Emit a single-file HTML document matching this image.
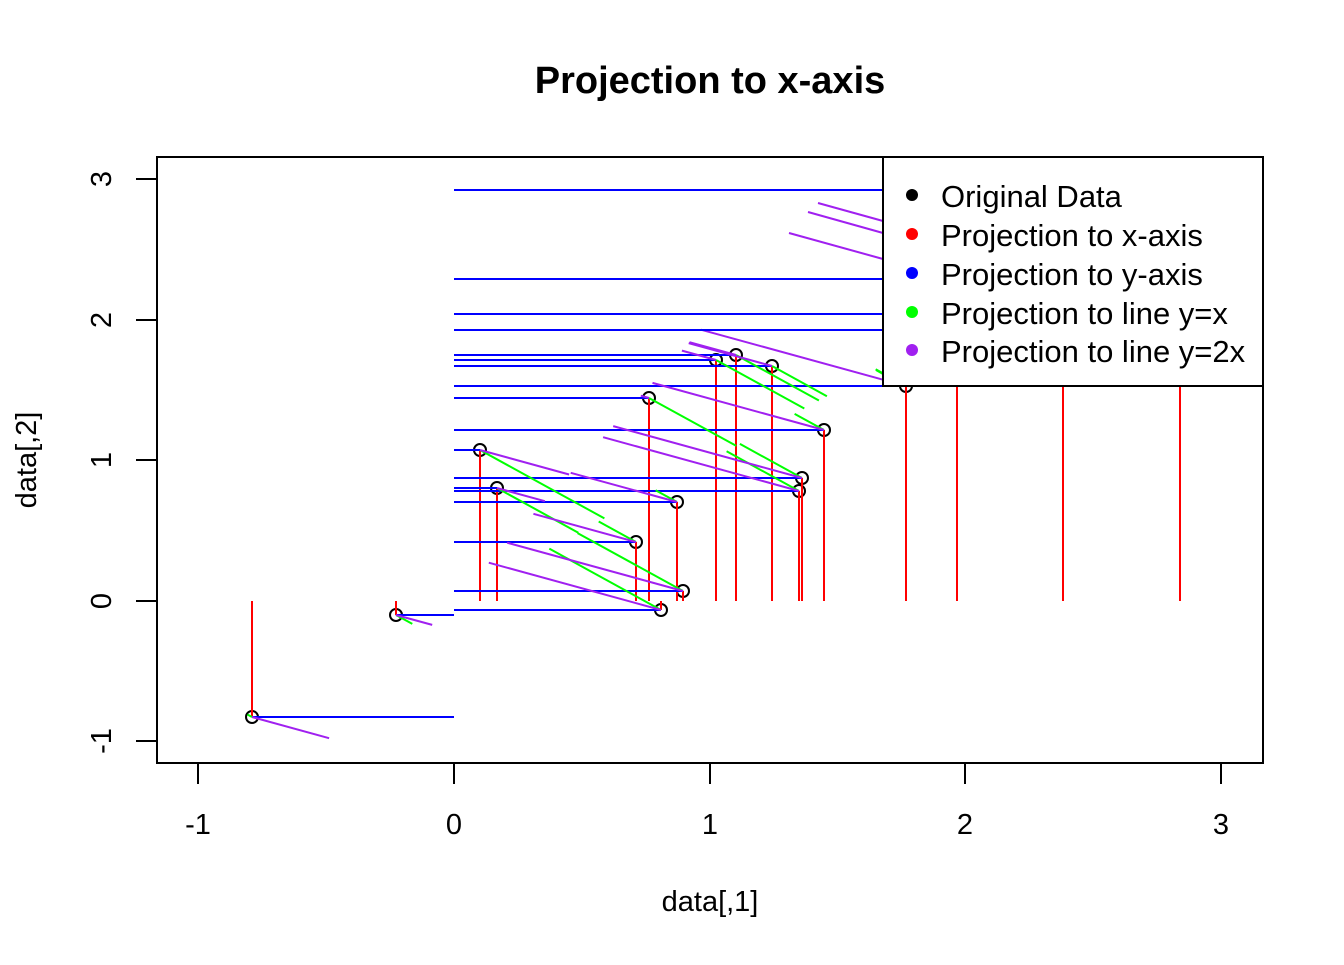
<!DOCTYPE html>
<html><head><meta charset="utf-8"><style>
html,body{margin:0;padding:0;background:#fff;}
svg text{font-family:"Liberation Sans",Arial,sans-serif;}
</style></head><body>
<svg id="s" width="1344" height="960" xmlns="http://www.w3.org/2000/svg">
<rect width="1344" height="960" fill="#fff"/>
<g id="data"></g>
<g stroke-width="2" fill="none">
<line x1="454" y1="190" x2="883" y2="190" stroke="#0000ff"/>
<line x1="454" y1="279" x2="883" y2="279" stroke="#0000ff"/>
<line x1="454" y1="314" x2="883" y2="314" stroke="#0000ff"/>
<line x1="454" y1="330" x2="883" y2="330" stroke="#0000ff"/>
<line x1="957" y1="386" x2="957" y2="601" stroke="#ff0000"/>
<line x1="1063" y1="386" x2="1063" y2="601" stroke="#ff0000"/>
<line x1="1180" y1="386" x2="1180" y2="601" stroke="#ff0000"/>
<line x1="876" y1="370" x2="883" y2="374" stroke="#00ff00"/>
<line x1="818" y1="203" x2="883" y2="221" stroke="#a020f0"/>
<line x1="808" y1="212" x2="883" y2="233" stroke="#a020f0"/>
<line x1="789" y1="233" x2="883" y2="259" stroke="#a020f0"/>
</g>
<rect x="883" y="157" width="380" height="229" fill="#fff" stroke="#000" stroke-width="2"/>
<circle cx="912" cy="195" r="6" fill="#000"/>
<circle cx="912" cy="234" r="6" fill="#ff0000"/>
<circle cx="912" cy="273" r="6" fill="#0000ff"/>
<circle cx="912" cy="312" r="6" fill="#00ff00"/>
<circle cx="912" cy="350" r="6" fill="#a020f0"/>
<g font-size="31">
<text x="941" y="207">Original Data</text>
<text x="941" y="246">Projection to x-axis</text>
<text x="941" y="285">Projection to y-axis</text>
<text x="941" y="324">Projection to line y=x</text>
<text x="941" y="362">Projection to line y=2x</text>
</g>
<rect x="157" y="157" width="1106" height="606" fill="none" stroke="#000" stroke-width="2"/>
<g stroke="#000" stroke-width="2">
<line x1="198" y1="763" x2="1221" y2="763"/>
<line x1="198" y1="763" x2="198" y2="784"/>
<line x1="454" y1="763" x2="454" y2="784"/>
<line x1="710" y1="763" x2="710" y2="784"/>
<line x1="965" y1="763" x2="965" y2="784"/>
<line x1="1221" y1="763" x2="1221" y2="784"/>
<line x1="157" y1="179" x2="157" y2="741"/>
<line x1="136" y1="179" x2="157" y2="179"/>
<line x1="136" y1="320" x2="157" y2="320"/>
<line x1="136" y1="460" x2="157" y2="460"/>
<line x1="136" y1="601" x2="157" y2="601"/>
<line x1="136" y1="741" x2="157" y2="741"/>
</g>
<g font-size="29" text-anchor="middle">
<text x="198" y="834">-1</text>
<text x="454" y="834">0</text>
<text x="710" y="834">1</text>
<text x="965" y="834">2</text>
<text x="1221" y="834">3</text>
<text transform="translate(111,179) rotate(-90)">3</text>
<text transform="translate(111,320) rotate(-90)">2</text>
<text transform="translate(111,460) rotate(-90)">1</text>
<text transform="translate(111,601) rotate(-90)">0</text>
<text transform="translate(111,741) rotate(-90)">-1</text>
<text x="710" y="911">data[,1]</text>
<text transform="translate(36,460) rotate(-90)">data[,2]</text>
<text x="710" y="93" font-size="38" font-weight="bold">Projection to x-axis</text>
</g>
</svg>
<script>
var P=[[252,717],[396,615],[480,450],[497,488],[636,542],[649,398],[661,610],[677,502],[683,591],[716,360],[736,355],[772,366],[799,491],[802,478],[824,430],[906,386]];
var sx=255.75,sy=140.5,ox=454,oy=601;
function px(x){return ox+x*sx}function py(y){return oy-y*sy}
var h='';
P.forEach(function(p){h+='<circle cx="'+p[0]+'" cy="'+p[1]+'" r="6" fill="none" stroke="#000" stroke-width="2"/>';});
function L(a,b,c,d,col){h+='<line x1="'+a.toFixed(1)+'" y1="'+b.toFixed(1)+'" x2="'+c.toFixed(1)+'" y2="'+d.toFixed(1)+'" stroke="'+col+'" stroke-width="2"/>';}
P.forEach(function(p){L(p[0],p[1],p[0],oy,'#ff0000');});
P.forEach(function(p){L(p[0],p[1],ox,p[1],'#0000ff');});
P.forEach(function(p){var x=(p[0]-ox)/sx,y=(oy-p[1])/sy,m=(x+y)/2;L(p[0],p[1],px(m),py(m),'#00ff00');});
P.forEach(function(p){var x=(p[0]-ox)/sx,y=(oy-p[1])/sy,t=(x+2*y)/5;L(p[0],p[1],px(t),py(2*t),'#a020f0');});
document.getElementById('data').innerHTML=h;
</script>
</body></html>
